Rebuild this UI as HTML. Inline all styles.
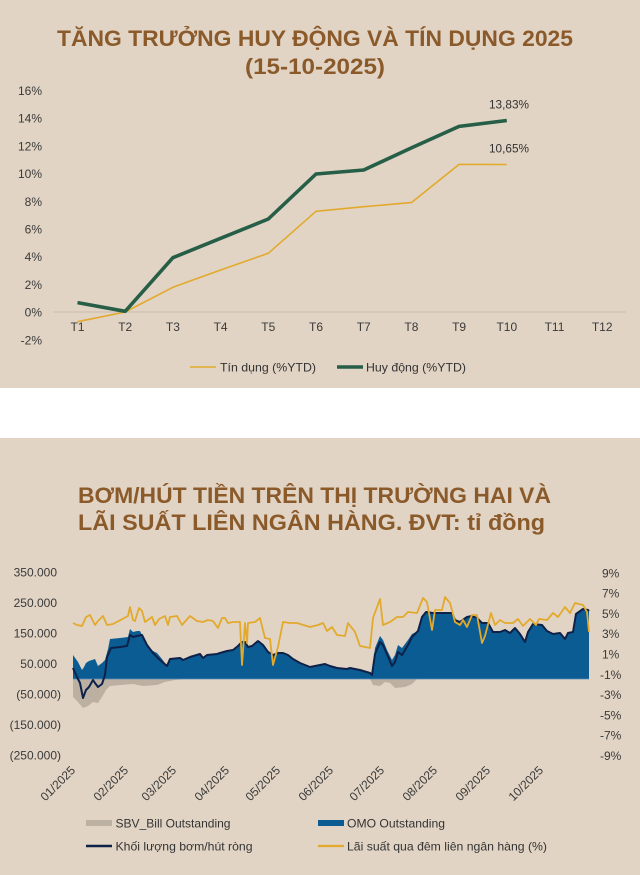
<!DOCTYPE html>
<html><head><meta charset="utf-8">
<style>
html,body{margin:0;padding:0;background:#fff;}
svg{display:block;font-family:"Liberation Sans","DejaVu Sans",sans-serif;}
</style></head>
<body>
<svg width="640" height="875" viewBox="0 0 640 875" xmlns="http://www.w3.org/2000/svg">
<rect x="0" y="0" width="640" height="875" fill="#ffffff"/>
<rect x="0" y="0" width="640" height="388" fill="#E1D4C4"/>
<rect x="0" y="438" width="640" height="437" fill="#E1D4C4"/>

<!-- ===== TOP CHART ===== -->
<g fill="#8B5A2B" font-weight="bold" font-size="22">
<text x="57" y="46" textLength="516" lengthAdjust="spacingAndGlyphs">TĂNG TRƯỞNG HUY ĐỘNG VÀ TÍN DỤNG 2025</text>
<text x="245" y="74" textLength="140" lengthAdjust="spacingAndGlyphs">(15-10-2025)</text>
</g>

<g fill="#3a3a3a" font-size="12" text-anchor="end">
<text x="42" y="95">16%</text>
<text x="42" y="122.7">14%</text>
<text x="42" y="150.4">12%</text>
<text x="42" y="178.1">10%</text>
<text x="42" y="205.8">8%</text>
<text x="42" y="233.5">6%</text>
<text x="42" y="261.2">4%</text>
<text x="42" y="288.9">2%</text>
<text x="42" y="316.6">0%</text>
<text x="42" y="344.3">-2%</text>
</g>

<line x1="53" y1="312" x2="626" y2="312" stroke="#CBBDAC" stroke-width="1"/>

<g fill="#3a3a3a" font-size="12" text-anchor="middle">
<text x="77.5" y="331">T1</text>
<text x="125.2" y="331">T2</text>
<text x="172.9" y="331">T3</text>
<text x="220.6" y="331">T4</text>
<text x="268.3" y="331">T5</text>
<text x="316" y="331">T6</text>
<text x="363.7" y="331">T7</text>
<text x="411.4" y="331">T8</text>
<text x="459.1" y="331">T9</text>
<text x="506.8" y="331">T10</text>
<text x="554.5" y="331">T11</text>
<text x="602.2" y="331">T12</text>
</g>

<polyline fill="none" stroke="#E2A92C" stroke-width="1.6" stroke-linejoin="round"
 points="77.5,321.7 125.2,312 172.9,287.3 220.6,270 268.3,253.3 316,211.3 363.7,206.7 411.4,202.6 459.1,164.4 506.8,164.5"/>
<polyline fill="none" stroke="#275E47" stroke-width="3.6" stroke-linejoin="round"
 points="77.5,302.6 125.2,311.3 172.9,257.7 220.6,238.3 268.3,219 316,174 363.7,170 411.4,147.9 459.1,126.4 506.8,120.5"/>

<g fill="#333" font-size="12">
<text x="489" y="108.5" textLength="40" lengthAdjust="spacingAndGlyphs">13,83%</text>
<text x="489" y="152.5" textLength="40" lengthAdjust="spacingAndGlyphs">10,65%</text>
</g>

<line x1="190" y1="367" x2="216" y2="367" stroke="#E2A92C" stroke-width="1.6"/>
<line x1="337" y1="367" x2="363" y2="367" stroke="#275E47" stroke-width="3.6"/>
<g fill="#333" font-size="12">
<text x="220" y="371.5" textLength="96" lengthAdjust="spacingAndGlyphs">Tín dụng (%YTD)</text>
<text x="366" y="371.5" textLength="100" lengthAdjust="spacingAndGlyphs">Huy động (%YTD)</text>
</g>

<!-- ===== BOTTOM CHART ===== -->
<g fill="#8B5A2B" font-weight="bold" font-size="22">
<text x="78" y="503" textLength="473" lengthAdjust="spacingAndGlyphs">BƠM/HÚT TIỀN TRÊN THỊ TRƯỜNG HAI VÀ</text>
<text x="78" y="530" textLength="467" lengthAdjust="spacingAndGlyphs">LÃI SUẤT LIÊN NGÂN HÀNG. ĐVT: tỉ đồng</text>
</g>

<g fill="#3a3a3a" font-size="12" text-anchor="end">
<text x="57" y="576.5">350.000</text>
<text x="57" y="607">250.000</text>
<text x="57" y="637.5">150.000</text>
<text x="57" y="668">50.000</text>
<text x="61" y="698.5">(50.000)</text>
<text x="61" y="729">(150.000)</text>
<text x="61" y="759.5">(250.000)</text>
</g>
<g fill="#3a3a3a" font-size="12">
<text x="602" y="577.3">9%</text>
<text x="602" y="597.6">7%</text>
<text x="602" y="617.9">5%</text>
<text x="602" y="638.2">3%</text>
<text x="602" y="658.5">1%</text>
<text x="600" y="678.8">-1%</text>
<text x="600" y="699.1">-3%</text>
<text x="600" y="719.4">-5%</text>
<text x="600" y="739.7">-7%</text>
<text x="600" y="760">-9%</text>
</g>

<!-- SBV bills (gray) -->
<polygon fill="#BCB0A3" points="73,679 73,697 78,702 83,708 88,706 93,702 98,703 102,697 106,690 110,686 120,685 133,684 143,686 157,685 165,682 175,680 185,679"/>
<polygon fill="#BCB0A3" points="370,679 373,685 380,686 385,682 390,683 395,688 405,687 412,684 417,679"/>

<!-- OMO (blue area) -->
<polygon fill="#0B5C93" points="73,679 73,655 78,662 82,670 84,667 86,663 89,661 92,660 95,659 98,666 102,663 105,660 108,649 110,639 120,638 128,637 130,629 133,632 137,631 140,631 143,637 148,647 153,651 157,653 162,659 167,666 170,659 180,658 183,660 190,657 200,654 203,658 207,655 217,654 220,653 227,651 233,650 238,646 242,642 245,642 248,647 252,646 258,641 263,645 268,652 273,655 278,653 283,653 288,655 293,659 300,663 310,667 320,665 325,664 330,666 337,668 347,669 350,668 360,670 370,673 372,673 375,648 380,636 383,640 387,650 392,660 395,655 398,645 402,648 405,644 408,640 412,634 418,631 422,617 426,612 433,613 443,613 452,613 455,620 460,622 467,617 472,616 477,618 482,623 488,623 493,632 500,632 505,630 510,633 515,628 520,634 525,642 528,632 533,624 542,625 547,631 553,634 560,633 565,639 568,633 573,632 576,614 583,609 588,610 589,611 589,679"/>
<line x1="73" y1="679" x2="589" y2="679" stroke="#5B8DB5" stroke-width="0.8"/>

<!-- Net injection (navy) -->
<polyline fill="none" stroke="#0E2149" stroke-width="2" stroke-linejoin="round"
 points="73,668 77,677 80,683 83,698 86,690 89,687 93,680 95,683 98,687 102,684 105,675 107,657 111,648 120,647 127,646 130,635 133,637 137,636 142,635 147,645 153,653 160,660 167,666 170,659 180,658 183,660 190,657 200,654 203,658 207,655 217,654 220,653 227,651 233,650 238,646 242,642 245,642 248,647 252,646 258,641 263,645 268,652 273,655 278,653 283,653 288,655 293,659 300,663 310,667 320,665 325,664 330,666 337,668 347,669 350,668 360,670 370,673 372,675 375,654 380,642 383,645 387,654 392,666 395,662 398,652 402,655 405,650 408,645 412,637 418,631 422,617 426,612 433,613 443,613 452,613 455,620 460,622 467,617 472,616 477,618 482,623 488,623 493,632 500,632 505,630 510,633 515,628 520,634 525,642 528,632 533,624 542,625 547,631 553,634 560,633 565,639 568,633 573,632 576,614 583,609 588,610 589,611"/>

<!-- Overnight rate (yellow) -->
<polyline fill="none" stroke="#E2A92C" stroke-width="1.8" stroke-linejoin="round"
 points="73,623 77,625 82,626 86,617 90,615 95,625 98,621 103,616 107,625 113,624 128,616 130,607 133,620 135,621 139,608 142,611 145,622 152,617 155,625 159,619 165,616 168,625 170,617 177,616 182,625 190,616 197,621 203,622 208,620 213,621 218,628 222,618 225,618 228,623 233,622 240,622 242,665 245,623 247,643 248,623 255,622 260,618 265,638 270,639 273,665 278,647 283,622 290,623 297,623 310,627 318,625 323,623 327,631 332,627 337,635 345,636 348,623 355,632 360,646 365,647 370,648 373,618 380,599 383,625 390,622 397,617 403,617 408,612 417,613 423,598 427,602 432,630 435,610 442,610 445,597 450,603 455,622 460,625 463,620 467,627 472,615 477,615 482,643 485,636 491,613 495,625 500,620 505,623 513,623 518,619 523,626 530,619 536,625 539,619 547,620 553,613 558,617 565,607 570,613 575,603 583,605 587,612 589,632"/>

<!-- date labels -->
<g fill="#3a3a3a" font-size="12" text-anchor="end">
<text transform="translate(76,771) rotate(-45)">01/2025</text>
<text transform="translate(129,771) rotate(-45)">02/2025</text>
<text transform="translate(177,771) rotate(-45)">03/2025</text>
<text transform="translate(230,771) rotate(-45)">04/2025</text>
<text transform="translate(281,771) rotate(-45)">05/2025</text>
<text transform="translate(334,771) rotate(-45)">06/2025</text>
<text transform="translate(385,771) rotate(-45)">07/2025</text>
<text transform="translate(438,771) rotate(-45)">08/2025</text>
<text transform="translate(491,771) rotate(-45)">09/2025</text>
<text transform="translate(544,771) rotate(-45)">10/2025</text>
</g>

<!-- legend -->
<rect x="86" y="820" width="26" height="6" fill="#BCB0A3"/>
<rect x="318" y="820" width="26" height="6" fill="#0B5C93"/>
<line x1="86" y1="846" x2="112" y2="846" stroke="#0E2149" stroke-width="2.5"/>
<line x1="318" y1="846" x2="344" y2="846" stroke="#E2A92C" stroke-width="2.2"/>
<g fill="#333" font-size="12">
<text x="115.5" y="827.5" textLength="115" lengthAdjust="spacingAndGlyphs">SBV_Bill Outstanding</text>
<text x="347" y="827.5" textLength="98" lengthAdjust="spacingAndGlyphs">OMO Outstanding</text>
<text x="115.5" y="850.5" textLength="137" lengthAdjust="spacingAndGlyphs">Khối lượng bơm/hút ròng</text>
<text x="347" y="850.5" textLength="200" lengthAdjust="spacingAndGlyphs">Lãi suất qua đêm liên ngân hàng (%)</text>
</g>
</svg>
</body></html>
